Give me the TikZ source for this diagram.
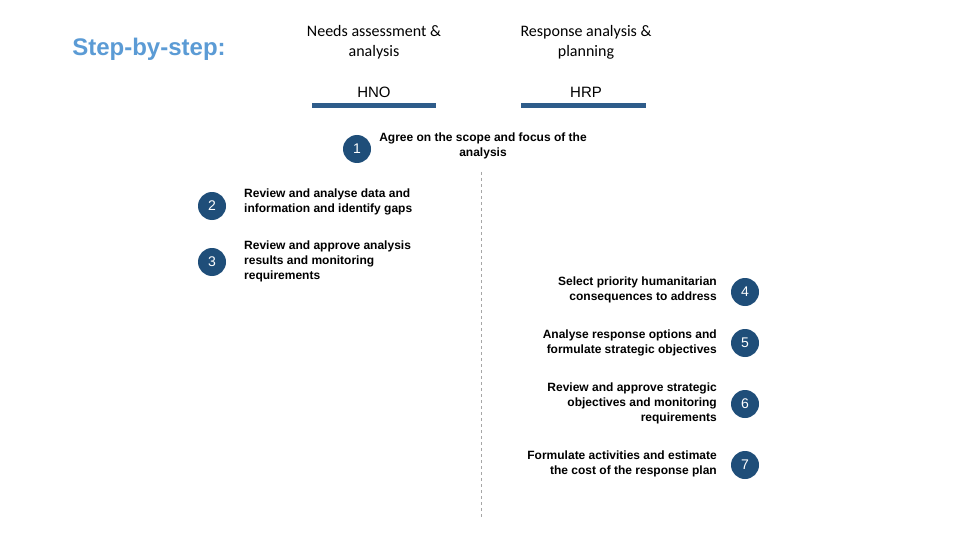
\documentclass[tikz,border=0pt]{standalone}
\usepackage{fontspec}
\setmainfont{Liberation Sans}
\newfontfamily\carlitofont{Carlito}
\definecolor{navy}{HTML}{1F4E79}
\definecolor{bar}{HTML}{2E5C8A}
\definecolor{ttl}{HTML}{5B9BD5}
\begin{document}
\begin{tikzpicture}[x=1pt,y=-1pt,
  num/.style={circle,fill=navy,minimum size=28pt,inner sep=0pt,text=white,font=\fontsize{14}{14}\selectfont},
  txt/.style={font=\bfseries\fontsize{12}{15}\selectfont,inner sep=0pt},
  hdr/.style={font=\carlitofont\fontsize{16}{20}\selectfont,align=center}]
\useasboundingbox[fill=white] (0,0) rectangle (960,540);
\node[font=\bfseries\fontsize{24}{24}\selectfont,text=ttl] (title) at (149,49) {Step-by-step:};
\node[hdr] (h1) at (374,42) {Needs assessment \&\\analysis};
\node[hdr] (h2) at (586,42) {Response analysis \&\\planning};
\node[font=\fontsize{15}{15}\selectfont] (hno) at (374,92) {HNO};
\node[font=\fontsize{15}{15}\selectfont] (hrp) at (586,92) {HRP};
\draw[bar,line width=5pt] (312,105.5) -- (436,105.5);
\draw[bar,line width=5pt] (521,105.5) -- (646,105.5);
\coordinate (d1) at (481,172); \coordinate (d2) at (481,517);
\draw[gray!70,dashed] (d1) -- (d2);
\node[num] (n1) at (357,149) {1};
\node[txt,align=center] (t1) at (483,146) {Agree on the scope and focus of the\\analysis};
\node[num] (n2) at (212,206) {2};
\node[txt,align=left,anchor=west] (t2) at (244,202) {Review and analyse data and\\information and identify gaps};
\node[num] (n3) at (212,262) {3};
\node[txt,align=left,anchor=north west] (t3) at (244,241) {Review and approve analysis\\results and monitoring\\requirements};
\node[num] (n4) at (745,292) {4};
\node[txt,align=right,anchor=east] (t4) at (717,290) {Select priority humanitarian\\consequences to address};
\node[num] (n5) at (745,343) {5};
\node[txt,align=right,anchor=east] (t5) at (717,343) {Analyse response options and\\formulate strategic objectives};
\node[num] (n6) at (745,404) {6};
\node[txt,align=right,anchor=east] (t6) at (717,403) {Review and approve strategic\\objectives and monitoring\\requirements};
\node[num] (n7) at (745,465) {7};
\node[txt,align=right,anchor=east] (t7) at (717,464) {Formulate activities and estimate\\the cost of the response plan};
\end{tikzpicture}
\end{document}
